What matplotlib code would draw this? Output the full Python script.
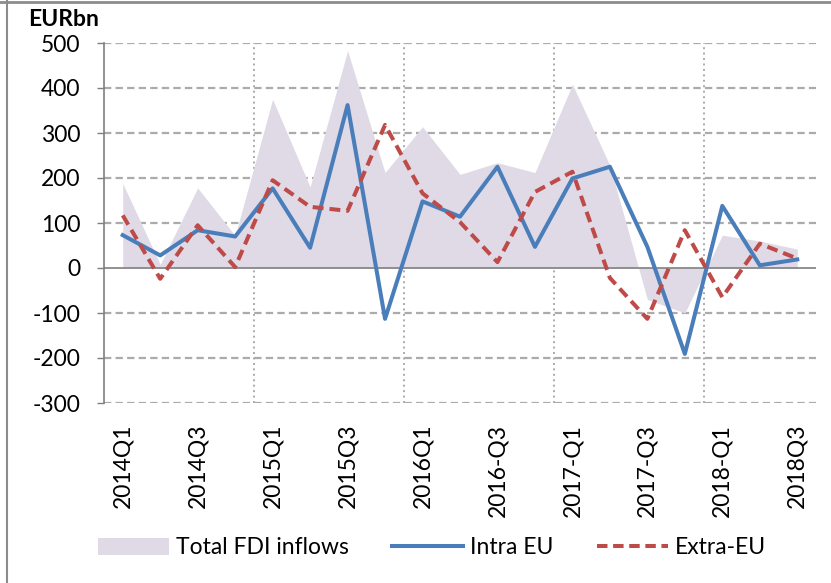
import matplotlib
matplotlib.use("Agg")
import matplotlib.pyplot as plt
from matplotlib.patches import Patch
from matplotlib.lines import Line2D

plt.rcParams['font.family'] = ['Lato', 'DejaVu Sans']
plt.rcParams['axes.unicode_minus'] = False

quarters = ["2014Q1", "2014Q2", "2014Q3", "2014Q4", "2015Q1", "2015Q2", "2015Q3", "2015Q4",
            "2016Q1", "2016Q2", "2016-Q3", "2016Q4", "2017-Q1", "2017Q2", "2017-Q3", "2017Q4",
            "2018-Q1", "2018Q2", "2018Q3"]
tick_labels = ["2014Q1", "", "2014Q3", "", "2015Q1", "", "2015Q3", "", "2016Q1", "",
               "2016-Q3", "", "2017-Q1", "", "2017-Q3", "", "2018-Q1", "", "2018Q3"]
total_fdi = [188, 8, 178, 72, 375, 180, 483, 212, 314, 208, 234, 212, 408, 228, -70, -100, 73, 60, 42]
intra_eu = [73, 28, 84, 70, 177, 45, 362, -113, 148, 114, 225, 47, 199, 225, 47, -191, 138, 6, 19]
extra_eu = [117, -24, 95, 2, 195, 136, 127, 318, 166, 102, 13, 169, 214, -22, -113, 84, -65, 54, 21]

x = list(range(len(quarters)))

W, H = 831, 583
fig = plt.figure(figsize=(W / 100, H / 100), dpi=100)
ax = fig.add_axes([104 / W, 1 - 403 / H, (816 - 104) / W, (403 - 43) / H])

grid_c = '#ababab'
ax.set_xlim(-0.5, 18.5)
ax.set_ylim(-300, 500)

# gridlines
for yv in range(-300, 501, 100):
    if yv == 0:
        continue
    ax.axhline(yv, color=grid_c, lw=1.6, dashes=(3.3, 1.9), zorder=0)
for xv in [3.5, 7.5, 11.5, 15.5]:
    ax.axvline(xv, color=grid_c, lw=1.4, dashes=(1, 1.8), zorder=0)

ax.fill_between(x, total_fdi, 0, color='#dfdae6', lw=0, zorder=1, label='Total FDI inflows')
ax.axhline(0, color='#7f7f7f', lw=1.2, zorder=2)
ax.plot(x, intra_eu, color='#4a7ebb', lw=2.9, zorder=3, label='Intra EU')
ax.plot(x, extra_eu, color='#be4b48', lw=2.9, dashes=(2.7, 1.5), zorder=4, label='Extra-EU')

for s in ['top', 'right', 'bottom']:
    ax.spines[s].set_visible(False)
ax.spines['left'].set_color('#7f7f7f')
ax.spines['left'].set_linewidth(1.2)

ax.set_yticks(range(-300, 501, 100))
ax.tick_params(axis='y', length=5, width=1.0, color='#7f7f7f', labelsize=16.5, pad=12)
ax.set_xticks(x)
ax.set_xticklabels(tick_labels, rotation=90, fontsize=16.5)
ax.tick_params(axis='x', length=0, pad=15)

fig.text(28 / W, 1 - 20 / H, 'EURbn', fontsize=16.5, fontweight='bold', va='center', ha='left')

handles = [Patch(facecolor='#dfdae6', edgecolor='none'),
           Line2D([0], [0], color='#4a7ebb', lw=2.9),
           Line2D([0], [0], color='#be4b48', lw=2.9, dashes=(2.6, 1.4))]
fig.legend(handles, ['Total FDI inflows', 'Intra EU', 'Extra-EU'], ncol=3,
           loc='center', bbox_to_anchor=(432 / W, 1 - 548 / H), frameon=False,
           fontsize=16.5, handlelength=3.1, handleheight=0.75, columnspacing=1.9, handletextpad=0.3)

# outer border (top and left)
fig.add_artist(Line2D([0, 1], [1 - 1.5 / H, 1 - 1.5 / H], transform=fig.transFigure, color='#8c8c8c', lw=2))
fig.add_artist(Line2D([7 / W, 7 / W], [0, 1], transform=fig.transFigure, color='#8c8c8c', lw=1.5))

fig.savefig('out.png', dpi=100)
